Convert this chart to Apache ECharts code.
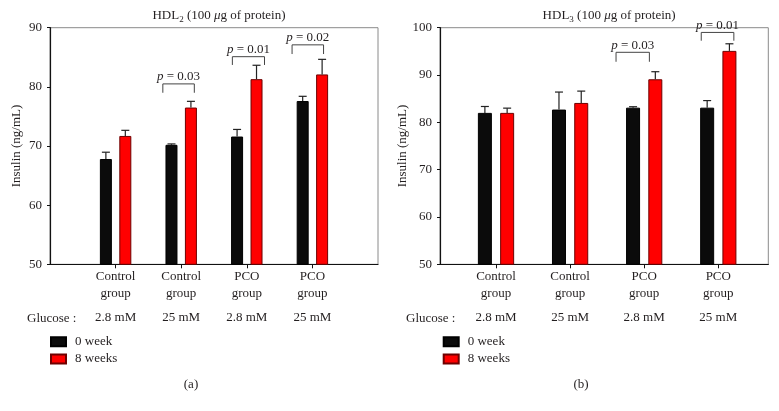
<!DOCTYPE html>
<html><head><meta charset="utf-8">
<script src="https://cdn.jsdelivr.net/npm/echarts@6/dist/echarts.min.js"></script>
<style>html,body{margin:0;padding:0;background:#fff}#c{width:779px;height:411px}</style>
</head><body><div id="c"></div>
<script>
// ---------- data ----------
const groupLabels = ['Control\ngroup', 'Control\ngroup', 'PCO\ngroup', 'PCO\ngroup'];
const glucoseLabels = ['2.8 mM', '25 mM', '2.8 mM', '25 mM'];
const positions = [1, 2, 3, 4];
const seriesNames = ['0 week', '8 weeks'];

// HDL2 panel (a)
const hdl2Week0 = [67.8, 70.2, 71.6, 77.6];
const hdl2Week0Err = [1.15, 0.15, 1.2, 0.8];
const hdl2Week8 = [71.7, 76.5, 81.3, 82.1];
const hdl2Week8Err = [0.95, 1.05, 2.35, 2.55];
// significance brackets: [x start, x end, y of bar, y of leg ends]
const hdl2Brackets = [[1.72, 2.2, 80.5, 79.0], [2.78, 3.27, 85.1, 83.7], [3.69, 4.17, 87.1, 85.55]];
const hdl2PLabels = ['0.03', '0.01', '0.02'];

// HDL3 panel (b)
const hdl3Week0 = [82.0, 82.7, 83.1, 83.1];
const hdl3Week0Err = [1.35, 3.7, 0.2, 1.5];
const hdl3Week8 = [82.0, 84.1, 89.1, 95.1];
const hdl3Week8Err = [1.0, 2.5, 1.6, 1.5];
const hdl3Brackets = [[2.62, 3.07, 94.8, 92.8], [3.77, 4.21, 99.0, 97.25]];
const hdl3PLabels = ['0.03', '0.01'];

// ---------- styling ----------
const FONT = "'Liberation Serif','DejaVu Serif',serif";
const TXT = '#231f20';
const BLACK = '#0b0b0b', RED = '#ff0000';

const panels = [
  { title: 'HDL{s|2} (100 {i|μ}g of protein)', grid: { left: 50, top: 27.7, width: 328, height: 236.6 },
    xmin: 0, xmax: 5, ymin: 50, ymax: 90, barW: 12, gapPct: 62,
    w0: hdl2Week0, e0: hdl2Week0Err, w8: hdl2Week8, e8: hdl2Week8Err,
    br: hdl2Brackets, pl: hdl2PLabels, glX: 27, legX: 50, tag: '(a)', tagX: 191 },
  { title: 'HDL{s|3} (100 {i|μ}g of protein)', grid: { left: 440, top: 27.7, width: 328.3, height: 236.6 },
    xmin: 0.244, xmax: 4.675, ymin: 50, ymax: 100, barW: 14, gapPct: 59,
    w0: hdl3Week0, e0: hdl3Week0Err, w8: hdl3Week8, e8: hdl3Week8Err,
    br: hdl3Brackets, pl: hdl3PLabels, glX: 406, legX: 442.7, tag: '(b)', tagX: 581 }
];

const option = { animation: false, backgroundColor: '#fff', grid: [], xAxis: [], yAxis: [], series: [], title: [], legend: [], graphic: [] };

const richBase = { fontFamily: FONT, fontSize: 13, color: TXT };

panels.forEach((p, gi) => {
  option.grid.push(Object.assign({ show: true, borderColor: '#8a8a8a', borderWidth: 1, backgroundColor: 'transparent' }, p.grid));
  const mainX = option.xAxis.length;
  option.xAxis.push({
    type: 'value', gridIndex: gi, min: p.xmin, max: p.xmax, position: 'bottom',
    axisLine: { show: true, lineStyle: { color: '#111', width: 1.2 } },
    axisTick: { show: true, customValues: positions, length: 4, lineStyle: { color: '#111' } },
    axisLabel: { customValues: positions, formatter: v => groupLabels[positions.indexOf(v)], margin: 4,
      fontSize: 13, lineHeight: 16.6, color: TXT, fontFamily: FONT },
    splitLine: { show: false }
  });
  option.xAxis.push({
    type: 'value', gridIndex: gi, min: p.xmin, max: p.xmax, position: 'bottom', offset: 42,
    axisLine: { show: false }, axisTick: { show: false },
    axisLabel: { customValues: positions, formatter: v => glucoseLabels[positions.indexOf(v)], margin: 4,
      fontSize: 13, lineHeight: 15, color: TXT, fontFamily: FONT },
    splitLine: { show: false }
  });
  option.yAxis.push({
    type: 'value', gridIndex: gi, min: p.ymin, max: p.ymax, interval: 10,
    name: 'Insulin (ng/mL)', nameLocation: 'middle', nameGap: 27,
    nameTextStyle: { fontSize: 13, color: TXT, fontFamily: FONT },
    axisLine: { show: true, lineStyle: { color: '#111', width: 1.2 } },
    axisTick: { show: true, length: 3, lineStyle: { color: '#111' } },
    axisLabel: { fontSize: 13, color: TXT, fontFamily: FONT, margin: 8 },
    splitLine: { show: false }
  });
  const cx = p.grid.left + p.grid.width / 2;
  option.title.push({
    text: p.title, left: cx, top: 2, textAlign: 'center',
    textStyle: Object.assign({ fontWeight: 'normal', lineHeight: 17 }, richBase, {
      rich: { s: Object.assign({}, richBase, { fontSize: 9, verticalAlign: 'bottom', lineHeight: 13 }),
              i: Object.assign({}, richBase, { fontStyle: 'italic' }) } })
  });
  const toPts = arr => arr.map((v, k) => [positions[k], v]);
  option.series.push({
    name: seriesNames[0], type: 'bar', xAxisIndex: mainX, yAxisIndex: gi, data: toPts(p.w0),
    barWidth: p.barW, barGap: p.gapPct + '%',
    itemStyle: { color: BLACK, borderColor: '#000', borderWidth: 1 }
  });
  option.series.push({
    name: seriesNames[1], type: 'bar', xAxisIndex: mainX, yAxisIndex: gi, data: toPts(p.w8),
    barWidth: p.barW, barGap: p.gapPct + '%',
    itemStyle: { color: RED, borderColor: '#6e0000', borderWidth: 1 }
  });
  const off = (p.barW + p.barW * p.gapPct / 100) / 2;
  [[p.w0, p.e0, -1], [p.w8, p.e8, 1]].forEach(([m, e, side]) => {
    option.series.push({
      type: 'custom', xAxisIndex: mainX, yAxisIndex: gi, z: 5,
      data: m.map((v, k) => [positions[k], v, e[k]]),
      encode: { x: 0, y: 1 },
      renderItem: (params, api) => {
        const b = api.coord([api.value(0), api.value(1)]);
        const t = api.coord([api.value(0), api.value(1) + api.value(2)]);
        const x = b[0] + side * off;
        const st = { stroke: '#222', lineWidth: 1.2 };
        return { type: 'group', children: [
          { type: 'line', shape: { x1: x, y1: b[1], x2: x, y2: t[1] }, style: st },
          { type: 'line', shape: { x1: x - 4, y1: t[1], x2: x + 4, y2: t[1] }, style: st }
        ] };
      }
    });
  });
  option.series.push({
    type: 'custom', xAxisIndex: mainX, yAxisIndex: gi, z: 6, clip: false,
    data: p.br, encode: { x: [0, 1], y: [2, 3] },
    renderItem: (params, api) => {
      const a = api.coord([api.value(0), api.value(2)]);
      const b = api.coord([api.value(1), api.value(2)]);
      const leg = api.coord([api.value(0), api.value(3)])[1];
      return { type: 'group', children: [
        { type: 'polyline', shape: { points: [[a[0], leg], [a[0], a[1]], [b[0], b[1]], [b[0], leg]] },
          style: { stroke: '#444', lineWidth: 1, fill: null } },
        { type: 'text', x: (a[0] + b[0]) / 2, y: a[1] - 0.5,
          style: { text: '{i|p} = ' + p.pl[params.dataIndex], fontFamily: FONT, fontSize: 13, fill: TXT,
            align: 'center', verticalAlign: 'bottom',
            rich: { i: { fontFamily: FONT, fontSize: 13, fontStyle: 'italic', fill: TXT } } } }
      ] };
    }
  });
  option.legend.push({
    left: p.legX, top: 334.2, orient: 'vertical', data: seriesNames, padding: 0,
    itemWidth: 15, itemHeight: 9, itemGap: 2.3, icon: 'rect', selectedMode: false,
    textStyle: { fontSize: 13, lineHeight: 15, color: TXT, fontFamily: FONT, padding: [0, 0, 0, 4] }
  });
  option.graphic.push({ type: 'text', x: p.glX, y: 318.3,
    style: { text: 'Glucose :', fontSize: 13, fontFamily: FONT, fill: TXT, verticalAlign: 'middle' } });
  option.graphic.push({ type: 'text', x: p.tagX, y: 385,
    style: { text: p.tag, fontSize: 13, fontFamily: FONT, fill: TXT, align: 'center', verticalAlign: 'middle' } });
});

const chart = echarts.init(document.getElementById('c'), null, { renderer: 'canvas' });
chart.setOption(option);
</script></body></html>
